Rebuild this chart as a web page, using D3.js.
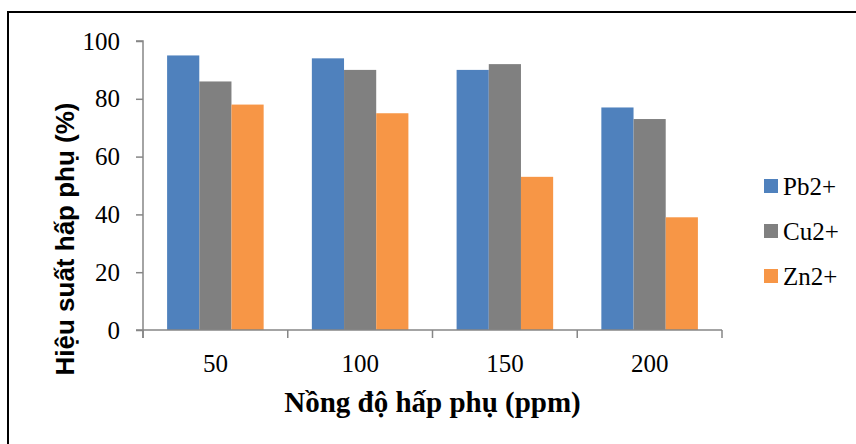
<!DOCTYPE html>
<html><head><meta charset="utf-8">
<script src="https://cdn.jsdelivr.net/npm/d3@7"></script>
<style>body{margin:0;background:#fff}svg{display:block}
.serif{font-family:'Liberation Serif','Times New Roman',serif}
.sans{font-family:'Liberation Sans',Arial,sans-serif}
</style>
</head><body><svg id="c" width="856" height="444"></svg>
<script>
const categories = ["50", "100", "150", "200"];
const seriesNames = ["Pb2+", "Cu2+", "Zn2+"];
const pb = [95, 94, 90, 77];
const cu = [86, 90, 92, 73];
const zn = [78, 75, 53, 39];
const yTicks = [0, 20, 40, 60, 80, 100];
const colors = ["#4F81BD", "#808080", "#F79646"];
const series = [pb, cu, zn];

const svg = d3.select("#c");
svg.append("rect").attr("x", 8).attr("y", 12).attr("width", 900).attr("height", 500)
  .attr("fill", "#fff").attr("stroke", "#000").attr("stroke-width", 2);

const L = 143, R = 722, T = 41, B = 330;
const x = d3.scaleBand().domain(categories).range([L, R]).paddingInner(0.333).paddingOuter(0.1665);
const xs = d3.scaleBand().domain(seriesNames).range([0, x.bandwidth()]);
const y = d3.scaleLinear().domain([0, 100]).range([B, T]);

const g = svg.append("g");
series.forEach((vals, si) => {
  g.selectAll(null).data(vals).enter().append("rect")
    .attr("x", (d, i) => x(categories[i]) + xs(seriesNames[si]))
    .attr("y", d => y(d))
    .attr("width", xs.bandwidth())
    .attr("height", d => B - y(d))
    .attr("fill", colors[si]);
});

const axisColor = "#868686";
// y axis
const ya = svg.append("g").attr("transform", `translate(${L},0)`)
  .call(d3.axisLeft(y).tickValues(yTicks).tickSize(7).tickPadding(16));
ya.attr("font-family", null).attr("font-size", null);
ya.select(".domain").attr("stroke", axisColor).attr("stroke-width", 1.5).attr("d", `M-7,${T}H0V${B+8}`);
ya.selectAll(".tick line").attr("stroke", axisColor).attr("stroke-width", 1.5);
ya.selectAll(".tick text").attr("class", "serif").style("font-size", "25px").attr("fill", "#000");

// x axis (ticks at category boundaries)
const step = x.step();
const bounds = categories.map((c, i) => x(c) - x.paddingOuter() * step).concat([R]);
const xa = svg.append("g").attr("transform", `translate(0,${B})`);
xa.append("line").attr("x1", L - 7).attr("x2", R).attr("y1", 0).attr("y2", 0)
  .attr("stroke", axisColor).attr("stroke-width", 1.5);
xa.selectAll(".tk").data(bounds).enter().append("line")
  .attr("x1", d => d).attr("x2", d => d).attr("y1", 0).attr("y2", 8)
  .attr("stroke", axisColor).attr("stroke-width", 1.5);
xa.selectAll(".lbl").data(categories).enter().append("text")
  .attr("class", "serif")
  .attr("x", d => x(d) + x.bandwidth() / 2).attr("y", 42)
  .attr("text-anchor", "middle")
  .style("font-size", "25px").attr("fill", "#000").text(d => d);

// titles
svg.append("text").attr("class", "serif").attr("x", (L + R) / 2).attr("y", 412).attr("text-anchor", "middle")
  .style("font-weight", "bold").style("font-size", "29px").text("Nồng độ hấp phụ (ppm)");
svg.append("text").attr("class", "sans").attr("transform", "translate(74,239) rotate(-90)").attr("text-anchor", "middle")
  .style("font-weight", "bold").style("font-size", "26px").text("Hiệu suất hấp phụ (%)");

// legend
const lg = svg.append("g");
seriesNames.forEach((s, i) => {
  const cy = 186 + i * 45;
  lg.append("rect").attr("x", 764).attr("y", cy - 7).attr("width", 14).attr("height", 14).attr("fill", colors[i]);
  lg.append("text").attr("class", "serif").attr("x", 783).attr("y", cy).attr("dy", "0.35em")
    .style("font-size", "25px").text(s);
});
</script></body></html>
